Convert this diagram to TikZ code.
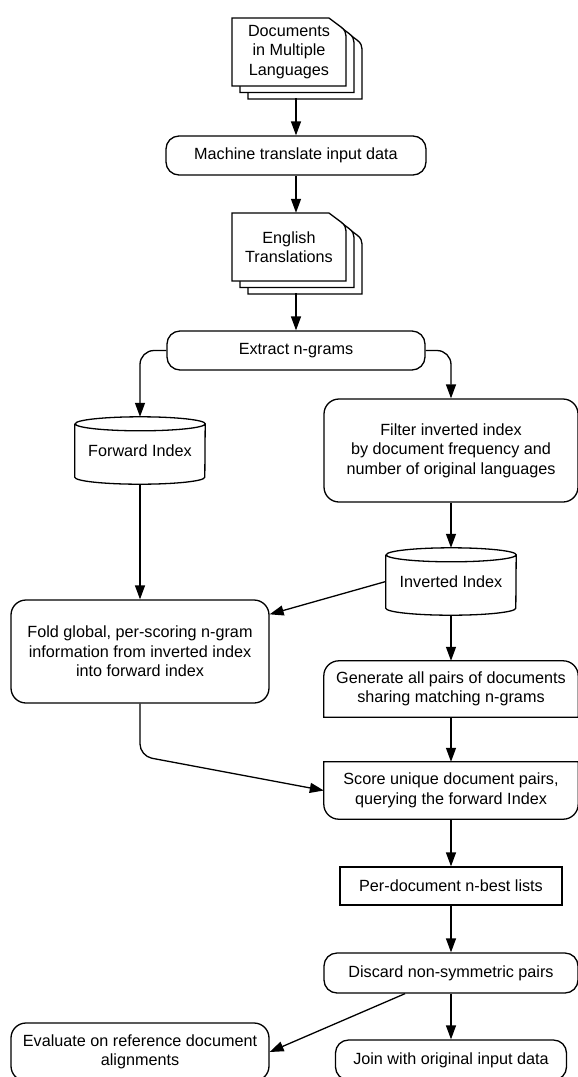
\documentclass[tikz,border=0pt]{standalone}
\usepackage{fontspec}
\setmainfont{Liberation Sans}
\usetikzlibrary{arrows.meta,calc}

\tikzset{
  every node/.style={font=\fontsize{16.2}{19.5}\selectfont, align=center, inner sep=0pt},
  wire/.style={line width=1.3pt},
  proc/.style={wire, draw, rounded corners=15pt},
  pill/.style={wire, draw, rounded corners=13pt},
  plainbox/.style={wire, draw},
  sheet/.style={wire, draw, fill=white},
  >={Triangle[length=14pt,width=10pt]},
}

% database drum round a node
\newcommand{\drum}[1]{%
  \draw[wire] ([yshift=-7pt]#1.north west) -- ([yshift=7pt]#1.south west)
    arc[start angle=180,end angle=360,x radius=65pt,y radius=7pt]
    -- ([yshift=-7pt]#1.north east)
    arc[start angle=0,end angle=180,x radius=65pt,y radius=7pt]
    arc[start angle=180,end angle=360,x radius=65pt,y radius=7pt];}
% box with round top, square bottom
\newcommand{\topround}[1]{%
  \draw[wire] (#1.south west) -- (#1.south east) -- ([yshift=-15pt]#1.north east)
    arc[start angle=0,end angle=90,radius=15pt] -- ([xshift=15pt]#1.north west)
    arc[start angle=90,end angle=180,radius=15pt] -- cycle;}
% box with square top, round bottom
\newcommand{\botround}[1]{%
  \draw[wire] (#1.north west) -- (#1.north east) -- ([yshift=15pt]#1.south east)
    arc[start angle=0,end angle=-90,radius=15pt] -- ([xshift=15pt]#1.south west)
    arc[start angle=270,end angle=180,radius=15pt] -- cycle;}

\begin{document}
\begin{tikzpicture}[x=1pt,y=-1pt]
    \useasboundingbox (0,0) rectangle (578,1077);
    \clip (0,0) rectangle (578,1077);

    % stacks of pages
    \foreach \py in {18,213}
        \foreach \i in {2,1,0}
            \draw[sheet, shift={(232+8*\i,\py+6.5*\i)}] (0,0) -- (97,0) -- (109,9)
                .. controls (113,12) and (114,15) .. (114,18) -- (114,68) -- (0,68) -- cycle;

    \node[minimum width=114pt, minimum height=68pt] (docsIn) at (289,52) {Documents\\in Multiple\\Languages};
    \node[minimum width=114pt, minimum height=68pt] (docsEn) at (289,247) {English\\Translations};
    \coordinate (stackA) at (296,98);
    \coordinate (stackB) at (296,293);

    \node[pill, minimum width=260pt, minimum height=39pt] (machine) at (296,155.5) {Machine translate input data};
    \node[pill, minimum width=258pt, minimum height=39pt] (extract) at (296,350.5) {Extract n-grams};

    \node[minimum width=130pt, minimum height=67pt] (fwd) at (140,450.5) {\raisebox{-4.5pt}{Forward Index}};
    \node[proc, minimum width=254pt, minimum height=103pt] (filter) at (451,450.5)
        {Filter inverted index\\by document frequency and\\number of original languages};
    \node[minimum width=130pt, minimum height=67pt] (inv) at (451,581.5) {\raisebox{-4.5pt}{Inverted Index}};
    \node[proc, minimum width=258pt, minimum height=103pt] (fold) at (140,651.5)
        {Fold global, per-scoring n-gram\\information from inverted index\\into forward index};
    \node[minimum width=254pt, minimum height=56pt] (gen) at (451,689)
        {Generate all pairs of documents\\sharing matching n-grams};
    \node[minimum width=254pt, minimum height=57pt] (score) at (451,790.5)
        {Score unique document pairs,\\querying the forward Index};
    \node[plainbox, minimum width=222pt, minimum height=38pt] (perdoc) at (451,886) {Per-document n-best lists};
    \node[pill, minimum width=254pt, minimum height=40pt] (discard) at (451,973) {Discard non-symmetric pairs};
    \node[pill, minimum width=231pt, minimum height=40pt] (join) at (451,1060) {Join with original input data};
    \node[proc, minimum width=258pt, minimum height=58pt] (eval) at (140,1052)
        {Evaluate on reference document\\alignments};
    \coordinate (bend) at (140,756);

    \drum{fwd}
    \drum{inv}
    \topround{gen}
    \botround{score}

    \draw[wire,->] (stackA) -- (machine);
    \draw[wire,->] (machine) -- (machine.south |- docsEn.north);
    \draw[wire,->] (stackB) -- (extract);
    \draw[wire,->,rounded corners=14pt] (extract.west) -| (fwd.north);
    \draw[wire,->,rounded corners=14pt] (extract.east) -| (filter.north);
    \draw[wire,->] (fwd) -- (fold);
    \draw[wire,->] (filter) -- (inv);
    \draw[wire,->] (inv.west) -- (fold.16);
    \draw[wire,->] (inv) -- (gen);
    \draw[wire,->] (gen) -- (score);
    \draw[wire,->,rounded corners=12pt] (fold.south) -- (bend) -- (score.west);
    \draw[wire,->] (score) -- (perdoc);
    \draw[wire,->] (perdoc) -- (discard);
    \draw[wire,->] (discard) -- (join);
    \draw[wire,->] ([xshift=-46pt]discard.south) -- (eval.east);
\end{tikzpicture}
\end{document}
